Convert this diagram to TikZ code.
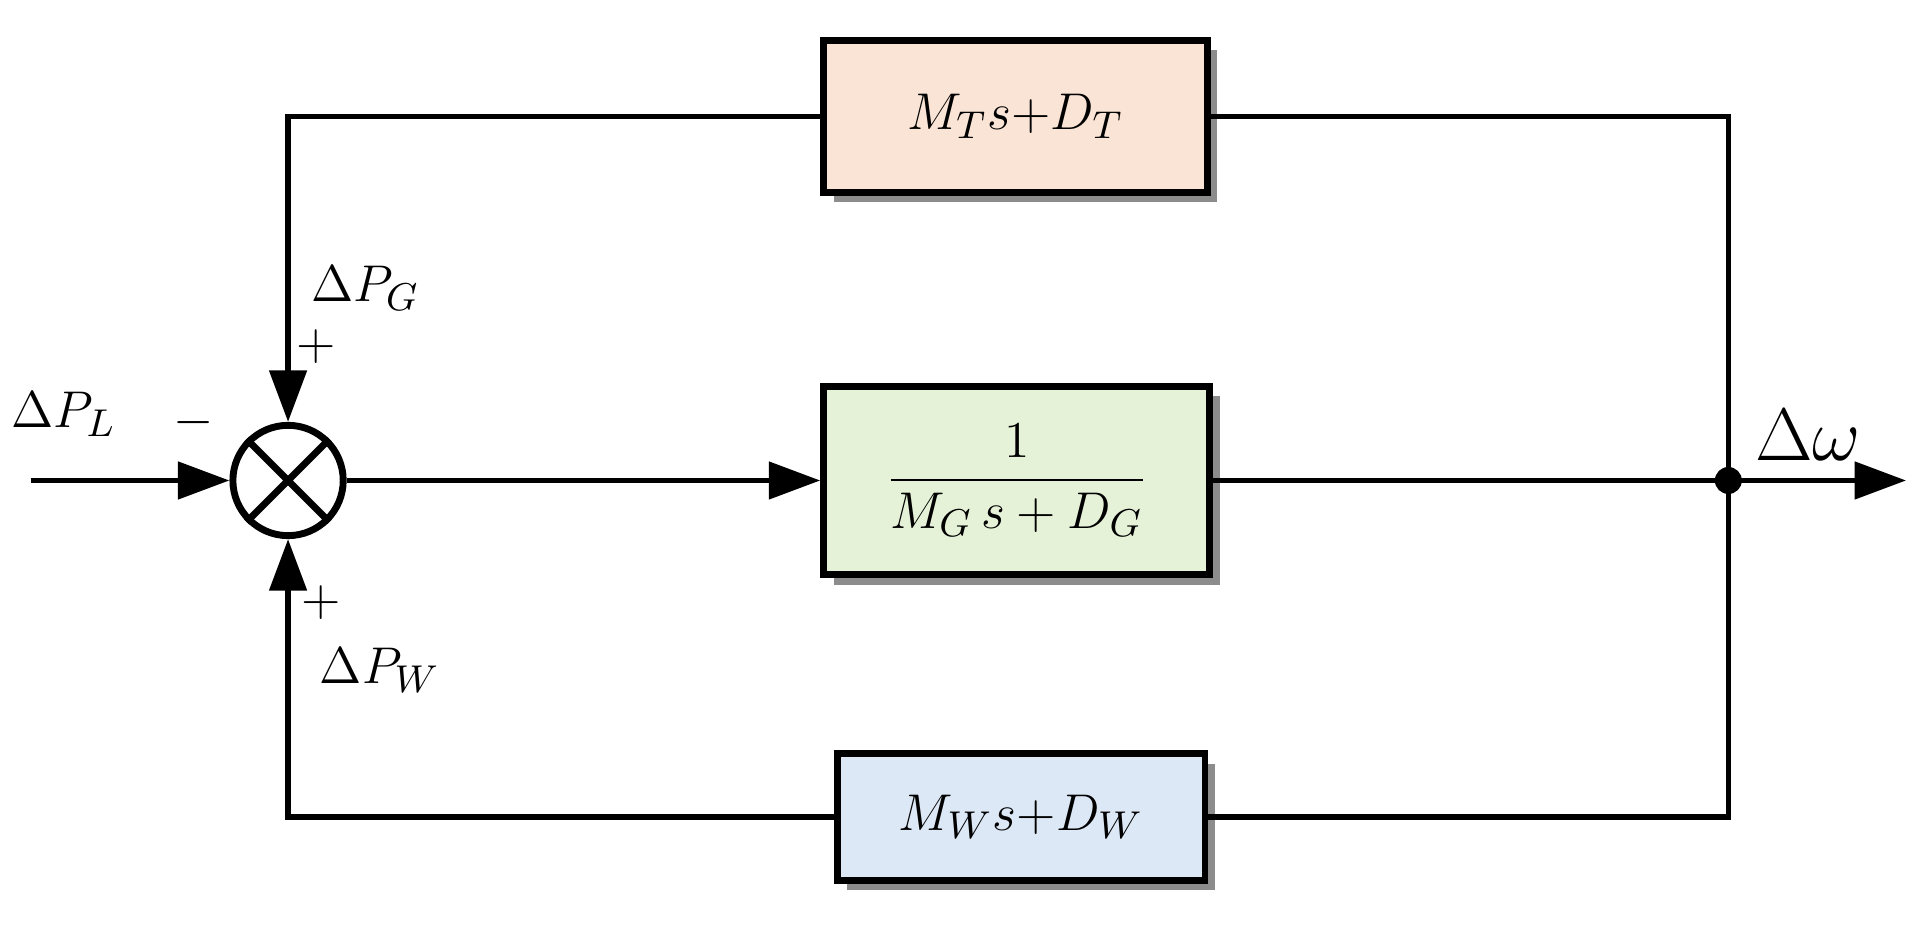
\documentclass[tikz,border=0pt]{standalone}
\usepackage{amsmath}
\usetikzlibrary{arrows.meta, calc, positioning, shadows}
\definecolor{topfill}{RGB}{250,228,213}
\definecolor{midfill}{RGB}{230,242,215}
\definecolor{botfill}{RGB}{220,232,245}
\tikzset{
    block/.style={draw, line width=1.6pt, inner sep=0pt,
        drop shadow={shadow xshift=0.08, shadow yshift=-0.08, opacity=1, fill=black!45}},
    wire/.style={line width=1.3pt},
    sig/.style={wire, -{Triangle[length=0.42cm, width=0.3cm]}}
}
\begin{document}
\begin{tikzpicture}[font=\fontsize{13}{16}\selectfont]
    \useasboundingbox (0,0) rectangle (15.68,7.60);

    % Blocks
    \node[block, fill=topfill, minimum width=3.13cm, minimum height=1.24cm] (tb) at (8.285,6.65) {$M_{T}s{+}D_{T}$};
    \node[block, fill=midfill, minimum width=3.15cm, minimum height=1.54cm] (gb) at (8.295,3.68) {$\dfrac{1}{M_{G}\,s+D_{G}}$};
    \node[block, fill=botfill, minimum width=3.00cm, minimum height=1.03cm] (wb) at (8.33,0.935) {$M_{W}s{+}D_{W}$};

    % Summing junction
    \node[draw, circle, line width=1.6pt, minimum size=0.9cm, inner sep=0pt] (sum) at (2.35,3.68) {};
    \draw[line width=1.6pt] (sum.north west) -- (sum.south east) (sum.north east) -- (sum.south west);

    % Points
    \coordinate (in) at (0.25,3.68);
    \coordinate (out) at (15.55,3.68);
    \fill (14.10,3.68) circle (0.11) coordinate (br);
    \coordinate (tr) at (14.10,6.65);
    \coordinate (brr) at (14.10,0.935);
    \coordinate (tl) at (2.35,6.65);
    \coordinate (bl) at (2.35,0.935);

    % Forward path
    \draw[sig] (in) -- (sum.west);
    \draw[sig] (sum.east) -- (gb.west);
    \draw[sig] (gb.east) -- (out);

    % Feedback paths
    \draw[wire] (br) -- (tr) -- (tb.east);
    \draw[sig] (tb.west) -- (tl) -- (sum.north);
    \draw[wire] (br) -- (brr) -- (wb.east);
    \draw[sig] (wb.west) -- (bl) -- (sum.south);

    % Labels
    \node (lpl) at (0.52,4.22) {$\Delta P_{L}$};
    \node (lmin) at (1.58,4.15) {$-$};
    \node (lpg) at (2.98,5.25) {$\Delta P_{G}$};
    \node (lpg+) at (2.58,4.77) {$+$};
    \node (lpw+) at (2.62,2.68) {$+$};
    \node (lpw) at (3.10,2.13) {$\Delta P_{W}$};
    \node (lw) at (14.75,4.05) {\fontsize{17}{20}\selectfont$\Delta\omega$};
\end{tikzpicture}
\end{document}
